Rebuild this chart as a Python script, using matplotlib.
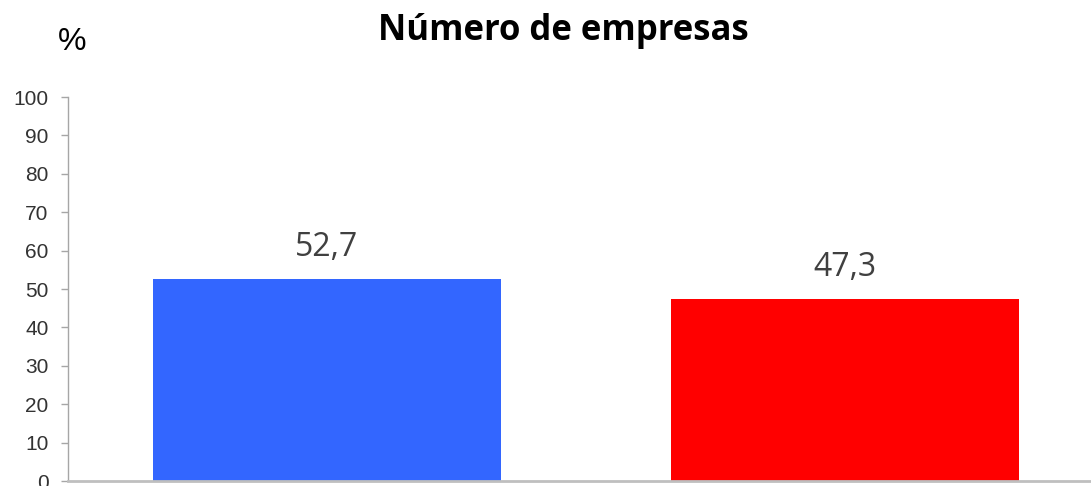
import matplotlib.pyplot as plt

# data
categories = ["A", "B"]
values = [52.7, 47.3]
labels = ["52,7", "47,3"]
colors = ["#3366FF", "#FF0000"]
yticks = list(range(0, 101, 10))

W, H = 1091, 486
fig = plt.figure(figsize=(W / 100, H / 100), dpi=100)
left = 68 / W
bottom = (H - 481) / H
top = (H - 97) / H
ax = fig.add_axes([left, bottom, 1 - left, top - bottom])

x = range(len(categories))
ax.bar(x, values, width=0.67, color=colors)
ax.set_xlim(-0.5, (W - 68) / 518 - 0.5)
ax.set_ylim(0, 100)
ax.set_yticks(yticks)
ax.set_yticklabels([str(t) for t in yticks], fontsize=15, family="Liberation Sans", color="#333333")
ax.set_xticks([])

for xi, v, lab in zip(x, values, labels):
    ax.text(xi, v + 6, lab, ha="center", va="baseline", fontsize=23,
            family="Open Sans", color="#404040")

for s in ["top", "right"]:
    ax.spines[s].set_visible(False)
ax.spines["left"].set_color("#A6A6A6")
ax.spines["left"].set_linewidth(1)
ax.spines["bottom"].set_color("#BFBFBF")
ax.spines["bottom"].set_linewidth(2)
ax.tick_params(axis="y", length=5, width=1, color="#A6A6A6", pad=9)

fig.text(563 / W, 1 - 40 / H, "Número de empresas", ha="center", va="baseline",
         fontsize=25, fontweight="bold", family="Open Sans", color="black")
fig.text(72 / W, 1 - 50 / H, "%", ha="center", va="baseline", fontsize=23,
         family="Liberation Sans", color="black")

fig.savefig("out.png", dpi=100)
